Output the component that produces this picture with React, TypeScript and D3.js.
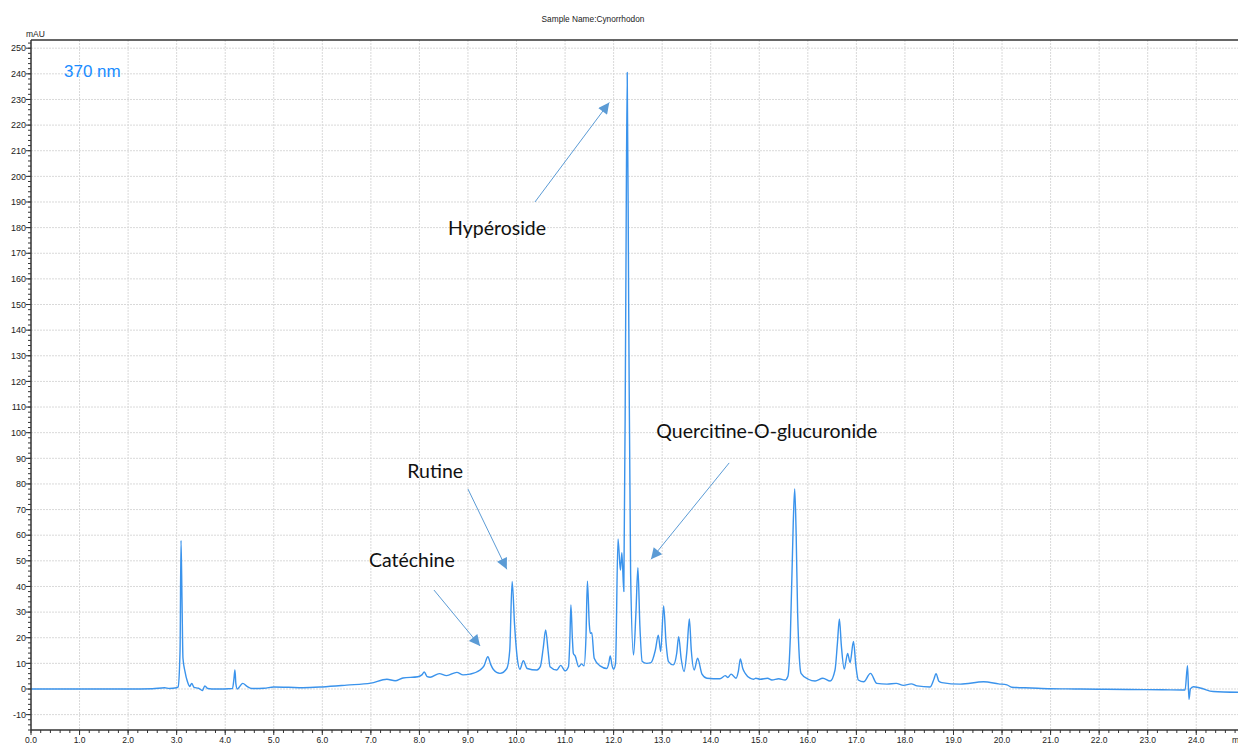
import React from "react";
import * as d3 from "d3";

const W = 1238;
const H = 744;

const title = "Sample Name:Cynorrhodon";
const yUnit = "mAU";
const xUnit = "min";
const channel = "370 nm";

const xTickValues = [0, 1, 2, 3, 4, 5, 6, 7, 8, 9, 10, 11, 12, 13, 14, 15, 16, 17, 18, 19, 20, 21, 22, 23, 24];
const yTickValues = [-10, 0, 10, 20, 30, 40, 50, 60, 70, 80, 90, 100, 110, 120, 130, 140, 150, 160, 170, 180, 190, 200, 210, 220, 230, 240, 250];

// retention time (min)
const times = [
  0, 1, 2, 2.5, 2.75, 2.85, 3.0, 3.03, 3.07, 3.09, 3.11, 3.13, 3.17, 3.22, 3.27, 3.31, 3.36, 3.45, 3.53, 3.58, 3.64, 3.8,
  4.15, 4.18, 4.2, 4.22, 4.25, 4.3, 4.36, 4.45, 4.55, 4.8, 5.0, 5.3, 5.6, 6.0, 6.5, 7.0, 7.33, 7.5, 7.66, 7.97, 8.05, 8.1,
  8.16, 8.22, 8.41, 8.56, 8.77, 8.9, 9.04, 9.25, 9.33, 9.41, 9.47, 9.52, 9.66, 9.8, 9.86, 9.91, 9.96, 10.02, 10.07, 10.14,
  10.22, 10.42, 10.49, 10.55, 10.6, 10.65, 10.69, 10.83, 10.91, 11.0, 11.07, 11.1, 11.12, 11.15, 11.17, 11.21, 11.28,
  11.34, 11.39, 11.43, 11.46, 11.5, 11.52, 11.55, 11.6, 11.72, 11.86, 11.9, 11.93, 11.97, 12.0, 12.04, 12.09, 12.14,
  12.17, 12.21, 12.25, 12.28, 12.31, 12.35, 12.41, 12.46, 12.5, 12.54, 12.59, 12.68, 12.77, 12.86, 12.92, 12.97, 13.03,
  13.08, 13.13, 13.23, 13.3, 13.34, 13.39, 13.45, 13.51, 13.56, 13.6, 13.66, 13.73, 13.82, 13.92, 14.19, 14.3, 14.35,
  14.42, 14.52, 14.57, 14.61, 14.66, 14.71, 14.81, 14.88, 14.93, 15.02, 15.17, 15.26, 15.4, 15.53, 15.59, 15.64, 15.7,
  15.73, 15.76, 15.79, 15.86, 16.01, 16.15, 16.31, 16.46, 16.56, 16.61, 16.65, 16.69, 16.75, 16.82, 16.87, 16.94, 16.99,
  17.04, 17.15, 17.29, 17.42, 17.63, 17.82, 17.97, 18.13, 18.25, 18.52, 18.6, 18.64, 18.7, 18.76, 19.14, 19.62, 19.93,
  20.1, 20.2, 20.6, 21.0, 21.5, 22.0, 22.6, 23.3, 23.77, 23.82, 23.85, 23.88, 23.94, 24.08, 24.35, 24.86,
];

// absorbance (mAU)
const absorbance = [
  0, 0, 0, 0.1, 0.5, 0.2, 0.5, 0.8, 15, 58, 35, 12, 7, 3, 1, 2.2, 0.6, 0.3, -0.6, 1.2, 0.2, 0,
  0.2, 4, 7.4, 2, 0, 1, 2.2, 1, 0.2, 0.3, 0.8, 0.7, 0.5, 0.8, 1.5, 2.3, 3.8, 3.2, 4.3, 4.8, 5.5, 6.6,
  4.8, 4.6, 6, 5.2, 6.5, 5.5, 5.8, 7.4, 9, 12.6, 9.5, 7.7, 6.1, 8, 15, 42, 25, 11.3, 7.7, 11,
  8, 7.4, 8.7, 16, 23, 15, 8.7, 7.4, 9.2, 7.1, 8.7, 20, 32.8, 20, 13.9, 12.8, 8.7,
  9.8, 9, 20, 42.1, 25, 21.7, 22, 12, 9, 8, 10, 12.9, 9, 7.7, 10, 58.5, 46.4,
  53.2, 38, 150, 240.5, 150, 45, 13.3, 30, 47.3, 25, 10.7, 10, 10.3, 15.2, 21, 14.6, 32.4,
  18, 10.7, 9.4, 14, 20.4, 12, 6.8, 15, 27.3, 15, 7.4, 12, 5.8, 4.2, 4, 5.2, 4.5,
  5.8, 4.2, 7, 11.7, 8, 6.1, 4.2, 3.8, 4.2, 3.8, 4.2, 3.5, 4, 3.5, 5, 20.4, 65,
  78, 60, 29.5, 6.1, 3.8, 3.1, 4.2, 3.1, 7.4, 18, 27.3, 17, 7.8, 13.9, 10.3, 18.5, 9,
  3.5, 2.8, 6.1, 2.2, 1.9, 2.2, 1.4, 2, 1.2, 0.8, 4, 6, 3, 2.5, 1.9, 2.8, 2,
  1.6, 0.7, 0.4, 0.1, 0, -0.1, -0.2, -0.3, -0.4, 9.1, -4, 0, 0.9, 0.4, -1, -1.3,
];

// annotations: label position, arrow tail, arrow tip (data coordinates)
const annLabels = ["Hypéroside", "Quercitine-O-glucuronide", "Rutine", "Catéchine"];
const annLabelT = [8.59, 12.88, 7.75, 6.96];
const annLabelV = [177, 97.9, 82.3, 47.6];
const annTailT = [10.38, 14.38, 9.0, 8.3];
const annTailV = [190, 88.2, 78, 38.6];
const annTipT = [11.91, 12.77, 9.8, 9.25];
const annTipV = [228.8, 50.6, 46.7, 16.8];

export default function App() {
  const x = d3.scaleLinear().domain([0, 24.86]).range([31, W]);
  const y = d3.scaleLinear().domain([-16, 253.2]).range([730, 40]);

  const pts = times.map((t, i) => [t, absorbance[i]] as [number, number]);
  const line = d3
    .line<[number, number]>()
    .x((d) => x(d[0]))
    .y((d) => y(d[1]))
    .curve(d3.curveMonotoneX);

  const xMinor = d3.range(0, 24.86, 0.2);
  const yMinor = d3.range(-16, 253.2, 2);

  const axisColor = "#333";
  const gridColor = "#d9d9d9";
  const tickFont = "'Liberation Sans', Arial, sans-serif";

  return (
    <svg
      width={W}
      height={H}
      style={{ position: "absolute", left: 0, top: 0, background: "#fff" }}
    >
      <rect x={0} y={0} width={W} height={H} fill="#fff" />
      {/* grid */}
      {xTickValues.slice(1).map((t) => (
        <line key={"gx" + t} x1={x(t)} x2={x(t)} y1={40} y2={730} stroke={gridColor} strokeWidth={1} strokeDasharray="2,1" />
      ))}
      {yTickValues.map((v) => (
        <line key={"gy" + v} x1={31} x2={W} y1={y(v)} y2={y(v)} stroke={gridColor} strokeWidth={1} strokeDasharray="2,1" />
      ))}

      {/* title */}
      <text x={593} y={21.5} textAnchor="middle" fontFamily={tickFont} fontSize={8.3} fill="#222">
        {title}
      </text>
      <text x={26} y={37} fontFamily={tickFont} fontSize={8.5} fill="#222">
        {yUnit}
      </text>
      <text x={64} y={77} fontFamily="'Liberation Sans', Arial, sans-serif" fontSize={17} fill="#1a8cff">
        {channel}
      </text>

      {/* chromatogram */}
      <path d={line(pts) || ""} fill="none" stroke="#3a93ec" strokeWidth={1.4} strokeLinejoin="round" />

      {/* axes */}
      <line x1={31} x2={W} y1={40} y2={40} stroke={axisColor} strokeWidth={1.5} />
      <line x1={31} x2={31} y1={40} y2={730} stroke={axisColor} strokeWidth={1.5} />
      <line x1={31} x2={W} y1={730} y2={730} stroke={axisColor} strokeWidth={1.5} />

      {yMinor.map((v) => (
        <line key={"ym" + v} x1={28} x2={31} y1={y(v)} y2={y(v)} stroke={axisColor} strokeWidth={1} />
      ))}
      {yTickValues.map((v) => (
        <g key={"yt" + v}>
          <line x1={26} x2={31} y1={y(v)} y2={y(v)} stroke={axisColor} strokeWidth={1} />
          <text x={26} y={y(v) + 3.2} textAnchor="end" fontFamily={tickFont} fontSize={9} fill="#222">
            {v}
          </text>
        </g>
      ))}

      {xMinor.map((t) => (
        <line key={"xm" + t} x1={x(t)} x2={x(t)} y1={730} y2={733} stroke={axisColor} strokeWidth={1} />
      ))}
      {xTickValues.map((t) => (
        <g key={"xt" + t}>
          <line x1={x(t)} x2={x(t)} y1={730} y2={735} stroke={axisColor} strokeWidth={1} />
          <text x={x(t)} y={743} textAnchor="middle" fontFamily={tickFont} fontSize={8.5} fill="#222">
            {t.toFixed(1)}
          </text>
        </g>
      ))}
      <text x={1232} y={743} fontFamily={tickFont} fontSize={8.5} fill="#222">
        {xUnit}
      </text>

      {/* annotations */}
      <defs>
        <marker id="arrowhead" viewBox="0 0 10 10" refX={10} refY={5} markerWidth={13} markerHeight={11} markerUnits="userSpaceOnUse" orient="auto">
          <path d="M0,0 L10,5 L0,10 z" fill="#5b9bd5" />
        </marker>
      </defs>
      {annLabels.map((label, i) => (
        <g key={"ann" + i}>
          <line
            x1={x(annTailT[i])}
            y1={y(annTailV[i])}
            x2={x(annTipT[i])}
            y2={y(annTipV[i])}
            stroke="#5b9bd5"
            strokeWidth={1}
            markerEnd="url(#arrowhead)"
          />
          <text x={x(annLabelT[i])} y={y(annLabelV[i])} fontFamily="Lato, 'Open Sans', sans-serif" fontSize={19.5} fill="#111">
            {label}
          </text>
        </g>
      ))}
    </svg>
  );
}
